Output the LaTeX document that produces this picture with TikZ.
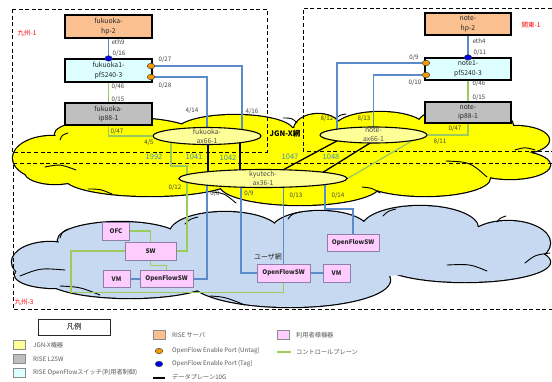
\documentclass[tikz,border=0pt]{standalone}
\usepackage{fontspec}
\setmainfont{Noto Sans CJK JP}
\usetikzlibrary{shapes.geometric}
\pgfdeclarelayer{clouds}
\pgfdeclarelayer{edges}
\pgfsetlayers{clouds,edges,main}
\definecolor{cloudyellow}{HTML}{FFFF00}
\definecolor{ellfill}{HTML}{FFFF99}
\definecolor{cloudblue}{HTML}{C6D9F0}
\definecolor{orangebox}{HTML}{FAC090}
\definecolor{cyanbox}{HTML}{DDFFFF}
\definecolor{greybox}{HTML}{BFBFBF}
\definecolor{pinkbox}{HTML}{FFCCFF}
\definecolor{pinkedge}{HTML}{8C7FA8}
\definecolor{bline}{HTML}{5B8BC9}
\definecolor{gline}{HTML}{9BCB5B}
\definecolor{portdot}{HTML}{F59B00}
\definecolor{tagblue}{HTML}{0000EE}
\definecolor{linkc}{HTML}{3B8EC2}
\newcommand\myfs[2]{\fontsize{#1}{#2}\selectfont}
\begin{document}
\begin{tikzpicture}[x=1pt,y=1pt,
  box/.style={draw=black, line width=1.1pt, minimum width=87pt, minimum height=23pt, align=center, inner sep=0pt, font=\myfs{6.8}{9.5}, text=black!85},
  hpbox/.style={box, fill=orangebox},
  pfbox/.style={box, fill=cyanbox},
  ipbox/.style={box, fill=greybox},
  jell/.style={ellipse, draw=black, line width=1.1pt, fill=ellfill, inner sep=0pt},
  elltxt/.style={align=center, inner sep=0pt, font=\myfs{6.8}{9}, text=black!70},
  ubox/.style={draw=pinkedge, line width=0.7pt, fill=pinkbox, inner sep=0pt, font=\bfseries\myfs{6.3}{7}, text=black!85},
  pdot/.style={ellipse, draw=black!75, line width=0.5pt, fill=portdot, minimum width=7.5pt, minimum height=5.5pt, inner sep=0pt},
  tdot/.style={pdot, fill=tagblue},
  port/.style={inner sep=0pt, font=\myfs{6.2}{7}, text=black!75},
  link/.style={inner sep=0pt, font=\myfs{7.5}{8}, text=linkc},
  bl/.style={draw=bline, line width=1.3pt},
  gl/.style={draw=gline, line width=1.3pt},
  dl/.style={draw=black, line width=1.3pt},
  region/.style={draw=black, line width=0.9pt, dash pattern=on 4pt off 2.6pt},
  redlbl/.style={inner sep=0pt, text=red, font=\myfs{6.5}{7}},
  legtxt/.style={anchor=west, inner sep=0pt, text=black!65, font=\myfs{6.2}{7}},
  legsq/.style={draw=black!45, line width=0.6pt, minimum width=12pt, minimum height=8.5pt, inner sep=0pt},
  cloudline/.style={line width=0.9pt, line cap=round},
]
\useasboundingbox (0,0) rectangle (552,-381);

% ---------------- clouds ----------------
\begin{pgfonlayer}{clouds}
\fill[white] (0,0) rectangle (552,-381);
% user network (blue)
\foreach \cx/\cy/\rx/\ry in {50/262/38/20, 120/240/62/18, 225/233/55/21, 320/230/48/19, 420/228/58/22, 508/243/42/22, 465/262/85/20, 290/280/100/27, 130/278/85/20, 55/275/40/13}
  \draw[line width=2.4pt, fill=cloudblue] (\cx,-\cy) ellipse [x radius=\rx, y radius=\ry];
\foreach \cx/\cy/\rx/\ry in {50/262/38/20, 120/240/62/18, 225/233/55/21, 320/230/48/19, 420/228/58/22, 508/243/42/22, 465/262/85/20, 290/280/100/27, 130/278/85/20, 55/275/40/13, 280/255/220/24, 140/262/70/22, 420/250/80/20}
  \fill[cloudblue] (\cx,-\cy) ellipse [x radius=\rx, y radius=\ry];
\draw[cloudline] (20,-276) .. controls (40,-268) .. (65,-270);
\draw[cloudline] (60,-286) .. controls (80,-287) .. (100,-295);
\draw[cloudline] (60,-238) .. controls (62,-232) .. (68,-229);
\draw[cloudline] (185,-224) .. controls (190,-219) .. (198,-217);
\draw[cloudline] (288,-219) .. controls (292,-214) .. (300,-212);
\draw[cloudline] (383,-216) .. controls (388,-211) .. (396,-209);
\draw[cloudline] (497,-222) .. controls (500,-218) .. (506,-216);
\draw[cloudline] (525,-263) .. controls (535,-255) .. (550,-253);
\draw[cloudline] (447,-265) .. controls (470,-264) .. (487,-271);
\draw[cloudline] (210,-296) .. controls (225,-297) .. (245,-305);
% JGN-X (yellow)
\foreach \cx/\cy/\rx/\ry in {52/158/39/22, 125/134/70/16, 235/131/58/16, 318/130/24/16, 380/128/45/16, 465/126/48/20, 515/140/34/14, 510/165/40/14, 425/178/65/18, 300/185/80/20, 150/178/85/18, 55/172/30/12}
  \draw[line width=2.4pt, fill=cloudyellow] (\cx,-\cy) ellipse [x radius=\rx, y radius=\ry];
\foreach \cx/\cy/\rx/\ry in {52/158/39/22, 125/134/70/16, 235/131/58/16, 318/130/24/16, 380/128/45/16, 465/126/48/20, 515/140/34/14, 510/165/40/14, 425/178/65/18, 300/185/80/20, 150/178/85/18, 55/172/30/12, 280/158/230/30}
  \fill[cloudyellow] (\cx,-\cy) ellipse [x radius=\rx, y radius=\ry];
\draw[cloudline] (45,-167) .. controls (60,-164) .. (76,-170);
\draw[cloudline] (88,-189) .. controls (100,-189) .. (112,-194);
\draw[cloudline] (212,-192) .. controls (224,-193) .. (236,-203);
\draw[cloudline] (446,-161) .. controls (470,-162) .. (487,-177);
\draw[cloudline] (283,-118) .. controls (292,-118) .. (297,-123);
\draw[cloudline] (515,-150) .. controls (525,-147) .. (535,-150);
\draw[cloudline] (60,-140) .. controls (62,-135) .. (68,-133);
\draw[cloudline] (335,-119) .. controls (340,-115) .. (346,-114);
\draw[cloudline] (362,-187) .. controls (372,-188) .. (380,-193);
\end{pgfonlayer}

% ---------------- nodes ----------------
\node[hpbox] (fhp) at (108.5,-26.5) {fukuoka-\\hp-2};
\node[pfbox] (fpf) at (108.5,-70.5) {fukuoka1-\\pf5240-3};
\node[ipbox, minimum height=22pt] (fip) at (108.5,-114) {fukuoka-\\ip88-1};
\node[hpbox, minimum width=86pt, minimum height=22pt] (nhp) at (468,-24) {note-\\hp-2};
\node[pfbox, minimum width=86pt, minimum height=22pt] (npf) at (468,-69) {note1-\\pf5240-3};
\node[ipbox, minimum width=86pt, minimum height=21pt] (nip) at (468,-112.5) {note-\\ip88-1};

\node[jell, minimum width=108pt, minimum height=17pt] (fax) at (207,-136) {};
\node[elltxt] (faxt) at (fax.center) {fukuoka-\\ax66-1};
\node[jell, minimum width=107pt, minimum height=16pt] (nax) at (373.5,-135) {};
\node[elltxt] (naxt) at (nax.center) {note-\\ax66-1};
\node[jell, minimum width=168pt, minimum height=18pt] (kax) at (263,-178.5) {};
\node[elltxt] (kaxt) at (kax.center) {kyutech-\\ax36-1};

\node[pdot] (p27) at (151,-66) {};
\node[pdot] (p28) at (151,-77) {};
\node[tdot] (p16) at (fpf.north) {};
\node[pdot] (p9) at (426,-63) {};
\node[pdot] (p10) at (426,-75) {};
\node[tdot] (p11) at (npf.north) {};

\node[ubox, minimum width=27pt, minimum height=18pt] (ofc) at (116,-231) {OFC};
\node[ubox, minimum width=51pt, minimum height=18pt] (sw) at (150.5,-251) {SW};
\node[ubox, minimum width=27pt, minimum height=17pt] (vm1) at (116.5,-279) {VM};
\node[ubox, minimum width=53pt, minimum height=17pt] (ofs1) at (166.5,-279) {OpenFlowSW};
\node[ubox, minimum width=53pt, minimum height=18pt] (ofs2) at (283.5,-273) {OpenFlowSW};
\node[ubox, minimum width=27pt, minimum height=18pt] (vm2) at (336.5,-273) {VM};
\node[ubox, minimum width=52pt, minimum height=17pt] (ofs3) at (353,-242.5) {OpenFlowSW};

% ---------------- edges and regions ----------------
\begin{pgfonlayer}{edges}
\draw[region] (12,-9) rectangle (267,-152);
\draw[region] (552,-8) -| (303,-151) -- (552,-151);
\draw[region] (552,-163) -| (13,-309) -- (552,-309);

\draw[bl] (fhp.south) -- (fpf.north);
\draw[bl] (p27) -| ([xshift=35pt]fax.center);
\draw[bl] (p28) -| (fax.center);
\draw[gl] (fpf.south) -- (fip.north);
\draw[gl] (fip.south) |- (fax.west);
\coordinate (g12a) at (171,-166);
\coordinate (g12b) at (187,-166);
\draw[gl] ([xshift=-36pt]fax.center) -- (g12a) -- (g12b) |- (sw.east);
\draw[dl] ([xshift=1pt]fax.center) -- ++(0,-42.5);
\draw[dl] ([xshift=33pt]fax.center) -- ++(0,-42.5);
\draw[dl] ([xshift=4pt]kax.center) -- ([xshift=-25.5pt]nax.center);
\draw[dl] ([xshift=50pt]kax.center) -- ([xshift=9.5pt]nax.center);
\draw[gl] ([xshift=48.5pt]nax.center) -- (kax.east);

\draw[bl] (nhp.south) -- (npf.north);
\draw[bl] (p9) -| ([xshift=-36.5pt]nax.center);
\draw[bl] (p10) -| (nax.center);
\draw[gl] (npf.south) -- (nip.north);
\draw[gl] (nip.south) |- (nax.east);

\draw[bl] ([xshift=-56pt]kax.center) |- (ofs1.east);
\draw[bl] ([xshift=-22pt]kax.center) |- (ofs2.west);
\draw[bl] (kax.center -| ofs2.north) -- (ofs2.north);
\coordinate (j14) at (353,-209);
\draw[bl] ([xshift=62pt]kax.center) |- (j14) -- (ofs3.north);
\draw[bl] (ofs2) -- (vm2);
\draw[bl] (vm1) -- (ofs1);
\coordinate (gl1) at (71,-292.5);
\draw[gl] (ofs2.south) |- (gl1) |- (sw.west);
\draw[gl] (ofc.east) -| (sw.north);
\draw[gl] (sw.south) -- ++(0,-5) -| (ofs1.north);
\end{pgfonlayer}

% ---------------- labels ----------------
\node[redlbl] (r1) at (27,-33) {九州-1};
\node[redlbl] (r2) at (531,-25) {関東-1};
\node[redlbl] (r3) at (24,-302) {九州-3};
\node[inner sep=0pt, font=\bfseries\myfs{7.5}{8}] (jgn) at (285,-134) {JGN-X網};
\node[inner sep=0pt, font=\myfs{7}{8}, text=black!85] (usr) at (268,-257) {ユーザ網};

\node[port] (a1) at (118,-42) {eth9};
\node[port] (a2) at (119,-54) {0/16};
\node[port] (a3) at (165,-60) {0/27};
\node[port] (a4) at (165,-86) {0/28};
\node[port] (a5) at (118,-87) {0/46};
\node[port] (a6) at (118,-100) {0/15};
\node[port] (a7) at (192,-111) {4/14};
\node[port] (a8) at (252,-112) {4/16};
\node[port] (a9) at (117,-132) {0/47};
\node[port] (a10) at (149,-143) {4/5};
\node[port] (b1) at (479,-41) {eth4};
\node[port] (b2) at (480,-53) {0/11};
\node[port] (b3) at (414,-58) {0/9};
\node[port] (b4) at (415,-83) {0/10};
\node[port] (b5) at (479,-84) {0/46};
\node[port] (b6) at (479,-98) {0/15};
\node[port] (b7) at (327,-119) {8/12};
\node[port] (b8) at (364,-119) {8/13};
\node[port] (b9) at (455,-129) {0/47};
\node[port] (b10) at (440,-142) {8/11};
\node[port] (c1) at (175,-188) {0/12};
\node[port] (c2) at (215,-194) {0/8};
\node[port] (c3) at (249,-194) {0/9};
\node[port] (c4) at (296,-196) {0/13};
\node[port] (c5) at (338,-196) {0/14};

\node[link] (k1) at (154,-157) {1992};
\node[link] (k2) at (194,-157) {1041};
\node[link] (k3) at (228,-158) {1042};
\node[link] (k4) at (290,-157) {1047};
\node[link] (k5) at (331,-157) {1048};

% ---------------- legend ----------------
\node[draw=black!85, line width=0.9pt, minimum width=72pt, minimum height=16pt, inner sep=0pt, font=\myfs{7.5}{8}] (legt) at (74,-327) {凡例};
\node[legsq, fill=ellfill] (sq1) at (19,-345) {};
\node[legtxt] (t1) at (33,-345) {JGN-X機器};
\node[legsq, fill=greybox] (sq2) at (19,-359) {};
\node[legtxt] (t2) at (33,-359) {RISE L2SW};
\node[legsq, fill=cyanbox] (sq3) at (19,-373) {};
\node[legtxt] (t3) at (33,-373) {RISE OpenFlowスイッチ(利用者制御)};
\node[legsq, fill=orangebox] (sq4) at (159,-335) {};
\node[legtxt] (t4) at (172,-335) {RISE サーバ};
\node[pdot] (sq5) at (159,-351) {};
\node[legtxt] (t5) at (172,-351) {OpenFlow Enable Port (Untag)};
\node[tdot] (sq6) at (159,-364) {};
\node[legtxt] (t6) at (172,-364) {OpenFlow Enable Port (Tag)};
\coordinate (dla) at (153,-378);
\coordinate (dlb) at (165,-378);
\draw[dl] (dla) -- (dlb);
\node[legtxt] (t7) at (172,-377) {データプレーン10G};
\node[legsq, fill=pinkbox] (sq7) at (283,-335) {};
\node[legtxt] (t8) at (296,-335) {利用者様機器};
\coordinate (gla) at (277,-352);
\coordinate (glb) at (291,-352);
\draw[gl] (gla) -- (glb);
\node[legtxt] (t9) at (296,-352) {コントロールプレーン};
\end{tikzpicture}
\end{document}
